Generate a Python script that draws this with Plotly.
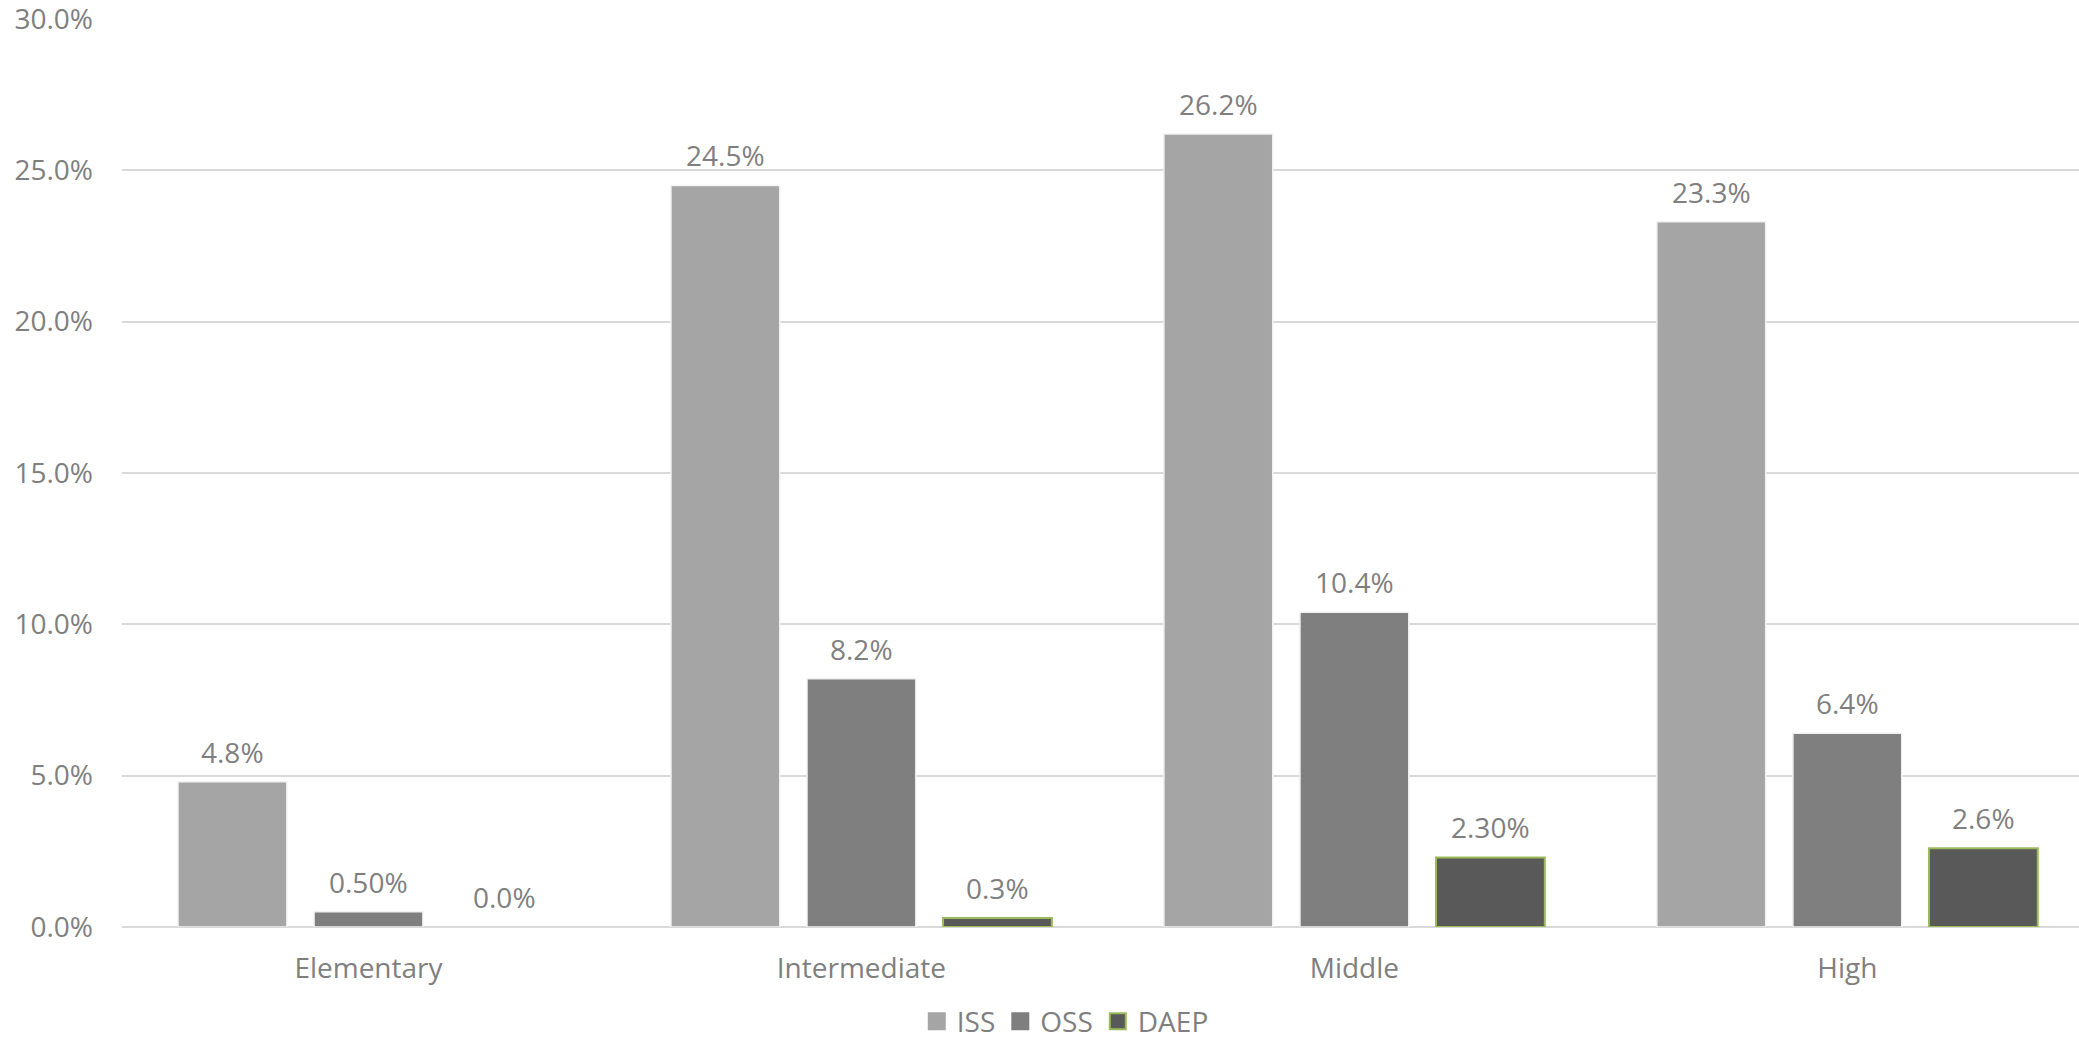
import plotly.graph_objects as go

categories = ["Elementary", "Intermediate", "Middle", "High"]
iss = [4.8, 24.5, 26.2, 23.3]
oss = [0.5, 8.2, 10.4, 6.4]
daep = [0.0, 0.3, 2.3, 2.6]
iss_labels = ["4.8%", "24.5%", "26.2%", "23.3%"]
oss_labels = ["0.50%", "8.2%", "10.4%", "6.4%"]
daep_labels = ["0.0%", "0.3%", "2.30%", "2.6%"]
y_ticks = [0, 5, 10, 15, 20, 25, 30]
y_tick_text = ["0.0%", "5.0%", "10.0%", "15.0%", "20.0%", "25.0%", "30.0%"]

FONT = "Open Sans"
TXT = "#7F7F7F"
FS = 28
BARGAP = 0.172
SLOT = (1 - BARGAP) / 3

fig = go.Figure()
series = [
    ("ISS", iss, iss_labels, "#A5A5A5", "#F2F2F2", 1.5),
    ("OSS", oss, oss_labels, "#7F7F7F", "#F2F2F2", 1.5),
    ("DAEP", daep, daep_labels, "#595959", "#9BBB59", 2),
]
annotations = []
for j, (name, vals, labels, color, lc, lw) in enumerate(series):
    widths = [lw if v > 0 else 0 for v in vals]
    fig.add_trace(go.Bar(
        name=name, x=categories, y=vals, showlegend=False,
        marker=dict(color=color, line=dict(color=lc, width=widths)),
    ))
    fig.add_trace(go.Scatter(
        name=name, x=[None], y=[None], mode="markers",
        marker=dict(symbol="square", size=16, color=color,
                    line=dict(color=lc if name == "DAEP" else color, width=2)),
    ))
    for i, (v, t) in enumerate(zip(vals, labels)):
        annotations.append(dict(
            x=i + (j - 1) * SLOT, y=v, xref="x", yref="y", text=t,
            showarrow=False, yanchor="bottom", yshift=9,
            font=dict(family=FONT, size=FS, color=TXT),
        ))

fig.update_layout(
    width=2079, height=1044,
    margin=dict(l=122, r=0, t=19, b=117, autoexpand=False),
    paper_bgcolor="white", plot_bgcolor="white",
    barmode="group", bargap=BARGAP, bargroupgap=0.2,
    font=dict(family=FONT, size=FS, color=TXT),
    showlegend=True,
    annotations=annotations,
    legend=dict(orientation="h", x=0.482, xanchor="center", yref="paper",
                y=-0.104, yanchor="middle",
                font=dict(family=FONT, size=FS, color=TXT), itemwidth=30,
                traceorder="normal"),
    xaxis=dict(range=[-0.5, 3.47], showgrid=False, showline=False,
               ticks="", ticklabelstandoff=22,
               tickfont=dict(family=FONT, size=FS, color=TXT)),
    yaxis=dict(range=[0, 30], tickvals=y_ticks, ticktext=y_tick_text,
               showgrid=True, gridcolor="#D9D9D9", gridwidth=1.5,
               zeroline=True, zerolinecolor="#D9D9D9", zerolinewidth=1.5,
               showline=False, ticks="", ticklabelstandoff=28,
               ticklabeloverflow="allow",
               tickfont=dict(family=FONT, size=FS, color=TXT)),
)

fig.write_html("out.html")
